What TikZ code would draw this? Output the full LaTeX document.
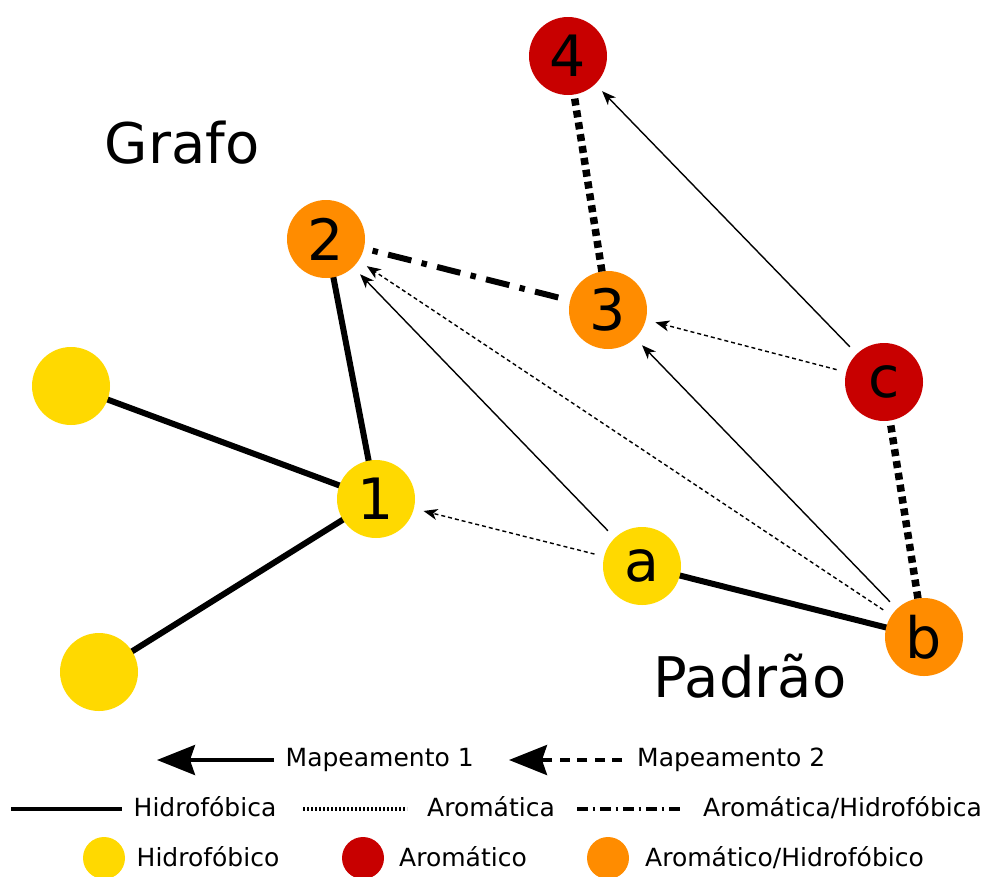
\documentclass[tikz,border=0pt]{standalone}
\usepackage{fontspec}
\setmainfont{DejaVu Sans}
\usetikzlibrary{arrows.meta,backgrounds}
\definecolor{hyel}{RGB}{255,217,0}
\definecolor{hred}{RGB}{200,0,0}
\definecolor{hora}{RGB}{255,140,0}
\begin{document}
\begin{tikzpicture}[x=1pt,y=-1pt,
  vtx/.style={circle,minimum size=78pt,inner sep=0pt,outer sep=0pt,font=\fontsize{57}{57}\selectfont},
  yel/.style={vtx,fill=hyel},
  red/.style={vtx,fill=hred},
  ora/.style={vtx,fill=hora},
  legdot/.style={circle,minimum size=42pt,inner sep=0pt,outer sep=0pt},
  hyd/.style={line width=6pt},
  aro/.style={line width=7.5pt,dash pattern=on 7pt off 5pt},
  aroh/.style={line width=6pt,dash pattern=on 5.5pt off 10.5pt on 24pt off 10.5pt},
  mapone/.style={line width=1.4pt,-{Stealth[length=14pt,width=11pt,inset=4pt]},shorten <=10pt,shorten >=10pt},
  maptwo/.style={mapone,dash pattern=on 4pt off 3pt},
  title/.style={font=\fontsize{56}{56}\selectfont,anchor=base,inner sep=0pt},
  leg/.style={font=\fontsize{25}{25}\selectfont,anchor=base west,inner sep=0pt},
  legarrow/.style={line width=3.5pt,-{Stealth[length=38pt,width=30pt,inset=5pt]}},
]
\path[use as bounding box] (0,0) rectangle (987,876);

% titles
\node[title] (grafo) at (182,163) {Grafo};
\node[title] (padrao) at (750,697) {Padrão};

% graph nodes
\node[yel] (y1) at (71,386) {};
\node[yel] (y2) at (99,672) {};
\node[yel] (n1) at (376,499) {1};
\node[ora] (n2) at (326,239) {2};
\node[ora] (n3) at (608,310) {3};
\node[red] (n4) at (568,56) {4};
\node[yel] (na) at (642,566) {a};
\node[ora] (nb) at (924,637) {b};
\node[red] (nc) at (884,382) {c};

\begin{scope}[on background layer]
  \draw[hyd] (y1.center) -- (n1.center);
  \draw[hyd] (y2.center) -- (n1.center);
  \draw[hyd] (n1.center) -- (n2.center);
  \draw[hyd] (na.center) -- (nb.center);
\end{scope}
\draw[aroh,shorten <=9pt,shorten >=9pt] (n2) -- (n3);
\draw[aro,shorten >=4pt] (n3) -- (n4);
\draw[aro,shorten <=5pt] (nc) -- (nb);

% mappings
\draw[mapone] (na) -- (n2);
\draw[maptwo] (na) -- (n1);
\draw[mapone] (nb) -- (n3);
\draw[maptwo] (nb) -- (n2);
\draw[maptwo] (nc) -- (n3);
\draw[mapone] (nc) -- (n4);

% legend row 1
\coordinate (l1s) at (274,760);
\coordinate (l1e) at (157,760);
\draw[legarrow] (l1s) -- (l1e);
\node[leg] (m1) at (285.5,766) {Mapeamento 1};
\coordinate (l2s) at (622,760);
\coordinate (l2e) at (509,760);
\draw[legarrow,dash pattern=on 10pt off 7.5pt] (l2s) -- (l2e);
\node[leg] (m2) at (637,766) {Mapeamento 2};

% legend row 2
\coordinate (h1) at (11,809);
\coordinate (h2) at (122,809);
\draw[line width=3.5pt] (h1) -- (h2);
\node[leg] (th) at (133.5,816) {Hidrofóbica};
\coordinate (d1) at (303,809);
\coordinate (d2) at (407,809);
\draw[line width=3.5pt,dash pattern=on 2pt off 2pt] (d1) -- (d2);
\node[leg] (ta) at (427,816) {Aromática};
\coordinate (dd1) at (577,809);
\coordinate (dd2) at (681,809);
\draw[line width=3.5pt,dash pattern=on 11pt off 4.5pt on 2.5pt off 5pt] (dd1) -- (dd2);
\node[leg] (tah) at (703,816) {Aromática/Hidrofóbica};

% legend row 3
\node[legdot,fill=hyel] (cy) at (104,858) {};
\node[leg] (ty) at (136.5,866) {Hidrofóbico};
\node[legdot,fill=hred] (cr) at (363,858) {};
\node[leg] (tr) at (399,866) {Aromático};
\node[legdot,fill=hora] (co) at (608,858) {};
\node[leg] (to) at (645,866) {Aromático/Hidrofóbico};
\end{tikzpicture}
\end{document}
